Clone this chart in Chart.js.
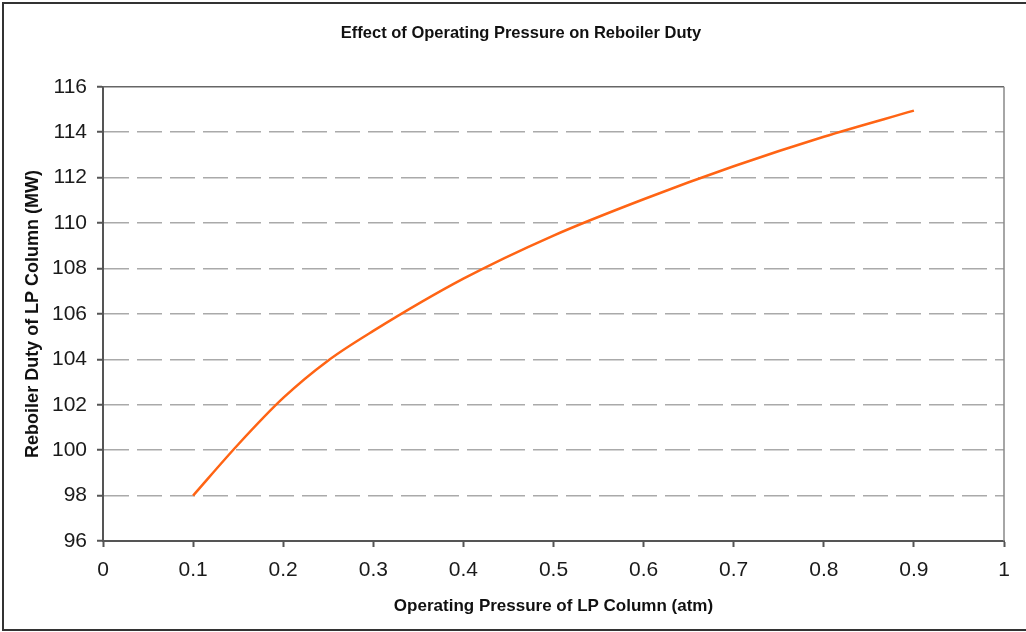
<!DOCTYPE html>
<html>
<head>
<meta charset="utf-8">
<script src="https://cdn.jsdelivr.net/npm/chart.js@4/dist/chart.umd.min.js"></script>
<style>
    body { margin: 0; background: #fff; }
    #wrap { position: relative; width: 1026px; height: 632px; }
</style>
</head>
<body>
<div id="wrap"><canvas id="chart"></canvas></div>
<script>
// values
const pressure = [0.1, 0.15, 0.2, 0.25, 0.3, 0.4, 0.5, 0.6, 0.7, 0.8, 0.9];
const duty = [98.0, 100.25, 102.3, 103.95, 105.25, 107.55, 109.45, 111.05, 112.5, 113.8, 114.95];

const xMin = 0, xMax = 1, xStep = 0.1;
const yMin = 96, yMax = 116, yStep = 2;

const chartTitle = 'Effect of Operating Pressure on Reboiler Duty';
const xTitle = 'Operating Pressure of LP Column (atm)';
const yTitle = 'Reboiler Duty of LP Column (MW)';

// frame around the plot area and around the whole picture
const framePlugin = {
    id: 'frame',
    beforeDraw(chart) {
        const ctx = chart.ctx;
        ctx.save();
        ctx.fillStyle = '#fff';
        ctx.fillRect(0, 0, chart.width, chart.height);
        ctx.strokeStyle = '#333';
        ctx.lineWidth = 2;
        ctx.strokeRect(3, 3, chart.width + 10, chart.height - 5);
        ctx.restore();
    },
    afterDatasetsDraw(chart) {
        const a = chart.chartArea;
        const ctx = chart.ctx;
        ctx.save();
        ctx.lineWidth = 1.5;
        ctx.strokeStyle = '#666';
        ctx.beginPath();
        ctx.moveTo(a.left, a.top);
        ctx.lineTo(a.right, a.top);
        ctx.stroke();
        ctx.strokeStyle = '#888';
        ctx.beginPath();
        ctx.moveTo(a.right, a.top);
        ctx.lineTo(a.right, a.bottom);
        ctx.stroke();
        ctx.restore();
    }
};

const points = pressure.map((p, i) => ({ x: p, y: duty[i] }));

new Chart(document.getElementById('chart'), {
    type: 'scatter',
    data: {
        datasets: [{
            data: points,
            showLine: true,
            borderColor: '#ff6414',
            borderWidth: 2.5,
            pointRadius: 0,
            cubicInterpolationMode: 'monotone',
            fill: false,
        }],
    },
    options: {
        responsive: true,
        maintainAspectRatio: false,
        animation: false,
        // left padding shifts the title centre to where it sits in the reference
        layout: { padding: { left: 16, right: 0, top: 0, bottom: 0 } },
        plugins: {
            legend: { display: false },
            tooltip: { enabled: false },
            title: {
                display: true,
                text: chartTitle,
                color: '#111',
                font: { family: 'Liberation Sans, Arial', size: 16.5, weight: 'bold' },
                padding: { top: 24, bottom: 43 },
            },
        },
        scales: {
            x: {
                type: 'linear',
                min: xMin,
                max: xMax,
                afterFit: scale => { scale.height = 632 - 541; },
                border: { color: '#555', width: 2 },
                grid: { drawOnChartArea: false, tickLength: 6, tickColor: '#555', tickWidth: 2 },
                ticks: {
                    stepSize: xStep,
                    color: '#1a1a1a',
                    padding: 11,
                    font: { family: 'Liberation Sans, Arial', size: 21 },
                    callback: v => String(+v.toFixed(1)),
                },
                title: {
                    display: true,
                    text: xTitle,
                    color: '#111',
                    font: { family: 'Liberation Sans, Arial', size: 17, weight: 'bold' },
                    padding: { top: 0, bottom: 15 },
                },
            },
            y: {
                type: 'linear',
                min: yMin,
                max: yMax,
                afterFit: scale => { scale.width = 103 - 16; },
                border: { color: '#555', width: 2, dash: [25, 8] },
                grid: {
                    color: ctx => (ctx.tick && (ctx.tick.value === yMin || ctx.tick.value === yMax)) ? 'rgba(0,0,0,0)' : '#aaa',
                    lineWidth: 1.5,
                    tickLength: 6,
                    tickColor: '#555',
                    tickWidth: 2,
                    tickBorderDash: [],
                },
                ticks: {
                    stepSize: yStep,
                    color: '#1a1a1a',
                    padding: 10,
                    font: { family: 'Liberation Sans, Arial', size: 21 },
                },
                title: {
                    display: true,
                    text: yTitle,
                    color: '#111',
                    font: { family: 'Liberation Sans, Arial', size: 18, weight: 'bold' },
                    padding: { top: 6, bottom: 0 },
                },
            },
            // empty spacer on the right so the plot ends where the reference does
            spacer: {
                type: 'linear',
                position: 'right',
                display: true,
                afterFit: scale => { scale.width = 1026 - 1004; },
                grid: { display: false },
                border: { display: false },
                ticks: { display: false },
            },
        },
    },
    plugins: [framePlugin],
});
</script>
</body>
</html>
